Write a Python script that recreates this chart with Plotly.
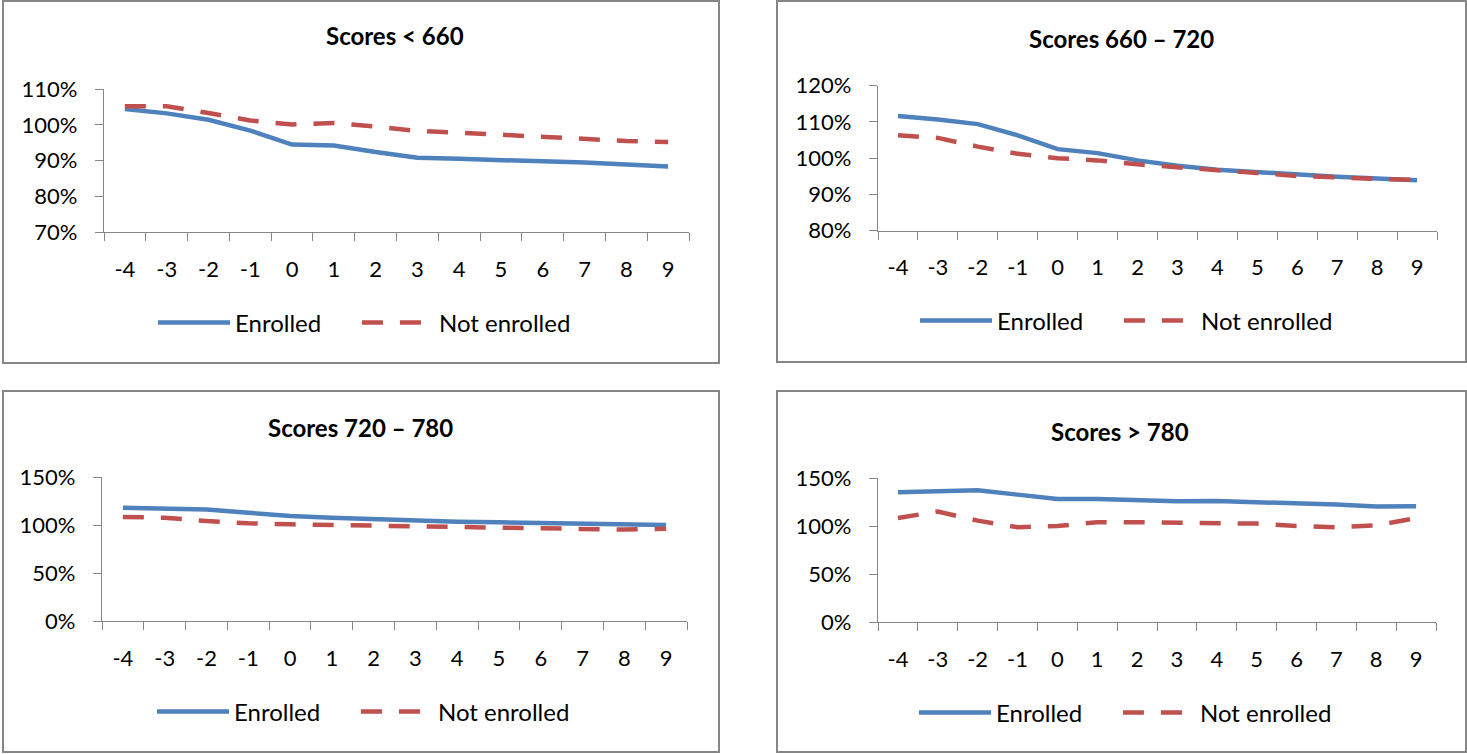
import plotly.graph_objects as go

W, H = 1467, 754

periods = ["-4", "-3", "-2", "-1", "0", "1", "2", "3", "4", "5", "6", "7", "8", "9"]
series_names = ["Enrolled", "Not enrolled"]
titles = ["Scores < 660", "Scores 660 \u2013 720", "Scores 720 \u2013 780", "Scores > 780"]

enrolled_lt660 = [1.044, 1.032, 1.014, 0.984, 0.945, 0.942, 0.924, 0.908, 0.905, 0.903, 0.898, 0.895, 0.890, 0.884]
not_enrolled_lt660 = [1.052, 1.052, 1.033, 1.012, 1.001, 1.005, 0.995, 0.983, 0.978, 0.972, 0.968, 0.961, 0.955, 0.952]

enrolled_660_720 = [1.1165, 1.107, 1.094, 1.063, 1.025, 1.014, 0.994, 0.979, 0.968, 0.961, 0.954, 0.949, 0.944, 0.939]
not_enrolled_660_720 = [1.063, 1.056, 1.032, 1.012, 1.000, 0.994, 0.983, 0.976, 0.968, 0.959, 0.951, 0.946, 0.943, 0.940]

enrolled_720_780 = [1.179, 1.172, 1.162, 1.128, 1.093, 1.076, 1.059, 1.041, 1.034, 1.028, 1.021, 1.010, 1.003, 1.000]
not_enrolled_720_780 = [1.083, 1.076, 1.041, 1.017, 1.007, 1.000, 0.993, 0.986, 0.983, 0.976, 0.969, 0.959, 0.952, 0.962]

enrolled_gt780 = [1.354, 1.361, 1.375, 1.330, 1.285, 1.285, 1.267, 1.260, 1.264, 1.253, 1.240, 1.226, 1.205, 1.208]
not_enrolled_gt780 = [1.087, 1.153, 1.059, 0.990, 1.003, 1.042, 1.042, 1.038, 1.028, 1.028, 1.003, 0.990, 1.010, 1.085]

panel_data = [
    (enrolled_lt660, not_enrolled_lt660),
    (enrolled_660_720, not_enrolled_660_720),
    (enrolled_720_780, not_enrolled_720_780),
    (enrolled_gt780, not_enrolled_gt780),
]
y_ranges = [(0.70, 1.10, 0.10), (0.80, 1.20, 0.10), (0.0, 1.5, 0.5), (0.0, 1.5, 0.5)]

# layout (pixel positions)
plot_areas = [(104, 689, 89, 232.3), (878, 1437, 85.7, 230.7), (102, 687, 477, 621), (878, 1436, 478.3, 622.3)]
boxes = [(3, 719, 1, 363), (777, 1466, 1, 362), (3, 719, 391, 752), (777, 1466, 391, 752)]
title_pos = [(395, 36), (1121, 38), (360, 428), (1120, 431)]
legend_pos = [(153, 323), (915, 321), (152, 712), (914, 713)]

BLUE = "#4F81BD"
RED = "#C0504D"
GRAY = "#868686"
FONT = "Lato, Carlito, Calibri, sans-serif"
LEGEND_PAD = "\u00a0" * 5  # spacing after the first legend entry


def px(x):
    return x / W


def py(y):
    return 1 - y / H


fig = go.Figure()
layout = dict(
    template="none",
    width=W, height=H, margin=dict(l=0, r=0, t=0, b=0, pad=0), autosize=False,
    paper_bgcolor="white", plot_bgcolor="white",
    font=dict(family=FONT, size=22, color="black"),
    shapes=[], annotations=[], hovermode=False,
)

for i, (enr, nen) in enumerate(panel_data):
    k = "" if i == 0 else str(i + 1)
    leg = "legend" + k
    fig.add_trace(go.Scatter(
        x=periods, y=enr, mode="lines", name=series_names[0] + LEGEND_PAD,
        line=dict(color=BLUE, width=4.5), xaxis="x" + k, yaxis="y" + k, legend=leg,
    ))
    fig.add_trace(go.Scatter(
        x=periods, y=nen, mode="lines", name=series_names[1],
        line=dict(color=RED, width=4.5, dash="21px,17px"), xaxis="x" + k, yaxis="y" + k, legend=leg,
    ))
    x0, x1, y0, y1 = plot_areas[i]
    lo, hi, dt = y_ranges[i]
    layout["xaxis" + k] = dict(
        domain=[px(x0), px(x1)], anchor="y" + k, type="category", automargin=False,
        range=[-0.5, len(periods) - 0.5],
        tickson="boundaries", ticks="outside", ticklen=8, tickcolor=GRAY, tickwidth=1.3,
        showline=True, linecolor=GRAY, linewidth=1.3, showgrid=False, zeroline=False,
        ticklabelstandoff=17, tickfont=dict(size=22, color="black", family=FONT), fixedrange=True,
    )
    layout["yaxis" + k] = dict(
        domain=[py(y1), py(y0)], anchor="x" + k, range=[lo, hi], dtick=dt, tick0=lo,
        automargin=False,
        tickformat=".0%", ticks="outside", ticklen=8, tickcolor=GRAY, tickwidth=1.3,
        showline=True, linecolor=GRAY, linewidth=1.3, showgrid=False, zeroline=False,
        ticklabelstandoff=13, tickfont=dict(size=22, color="black", family=FONT), fixedrange=True,
    )
    bx0, bx1, by0, by1 = boxes[i]
    layout["shapes"].append(dict(
        type="rect", xref="paper", yref="paper",
        x0=px(bx0), x1=px(bx1), y0=py(by1), y1=py(by0),
        line=dict(color=GRAY, width=2), fillcolor="rgba(0,0,0,0)", layer="below",
    ))
    tx, ty = title_pos[i]
    layout["annotations"].append(dict(
        text="<b>" + titles[i] + "</b>", xref="paper", yref="paper",
        x=px(tx), y=py(ty), xanchor="center", yanchor="middle", showarrow=False,
        font=dict(size=24, color="black", family=FONT),
    ))
    lx, ly = legend_pos[i]
    layout[leg] = dict(
        orientation="h", x=px(lx), y=py(ly), xanchor="left", yanchor="middle",
        bgcolor="rgba(0,0,0,0)", borderwidth=0,
        font=dict(size=24, color="black", family=FONT),
        itemwidth=72, tracegroupgap=0, itemclick=False, itemdoubleclick=False,
    )

fig.update_layout(**layout)

reset_page = (
    "document.documentElement.style.margin='0';"
    "document.documentElement.style.padding='0';"
    "document.documentElement.style.overflow='hidden';"
    "document.body.style.margin='0';"
    "document.body.style.padding='0';"
    "document.body.style.overflow='hidden';"
)
fig.write_html("out.html", config={"displayModeBar": False}, post_script=reset_page)
